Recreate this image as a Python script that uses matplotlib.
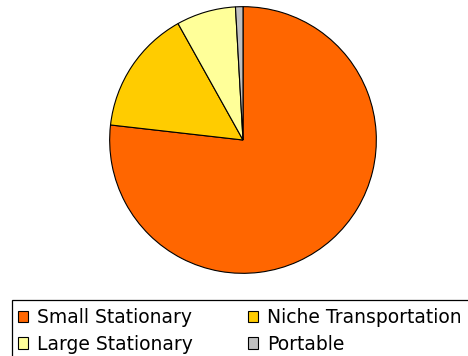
import matplotlib.pyplot as plt
from matplotlib.patches import Patch, Rectangle

labels = ["Small Stationary", "Niche Transportation", "Large Stationary", "Portable"]
shares = [76.8, 15.1, 7.2, 0.9]
colors = ["#FF6600", "#FFCC00", "#FFFF99", "#C0C0C0"]

W, H = 468, 356
fig = plt.figure(figsize=(W / 100, H / 100), dpi=100)

# pie centre (243, 140) px, radius 134 px
cx, cy, r = 243, 140, 134
ax = fig.add_axes([(cx - r) / W, (H - cy - r) / H, 2 * r / W, 2 * r / H])
ax.pie(shares, colors=colors, startangle=90, counterclock=False,
       wedgeprops=dict(edgecolor="black", linewidth=0.8))
ax.set_xlim(-1.005, 1.005)
ax.set_ylim(-1.005, 1.005)
ax.set_aspect("auto")
ax.axis("off")

# legend box runs off the right and bottom edges of the image
fig.patches.append(Rectangle((12 / W, -0.1), 1.0, 1 - 300 / H + 0.1,
                             transform=fig.transFigure, facecolor="none",
                             edgecolor="black", linewidth=0.9))

handles = [Patch(facecolor=c, edgecolor="black", linewidth=0.8) for c in colors]
# legend fills column-major, so reorder to get rows Small|Niche, Large|Portable
order = [0, 2, 1, 3]
leg = fig.legend([handles[i] for i in order], [labels[i] for i in order],
                 ncol=2, loc="upper left",
                 bbox_to_anchor=(18 / W, 1 - 308 / H),
                 fontsize=13.5, frameon=False, borderpad=0,
                 handlelength=0.55, handleheight=0.55, handletextpad=0.46,
                 columnspacing=2.95, labelspacing=0.4, borderaxespad=0)

fig.savefig("out.png", dpi=100)
